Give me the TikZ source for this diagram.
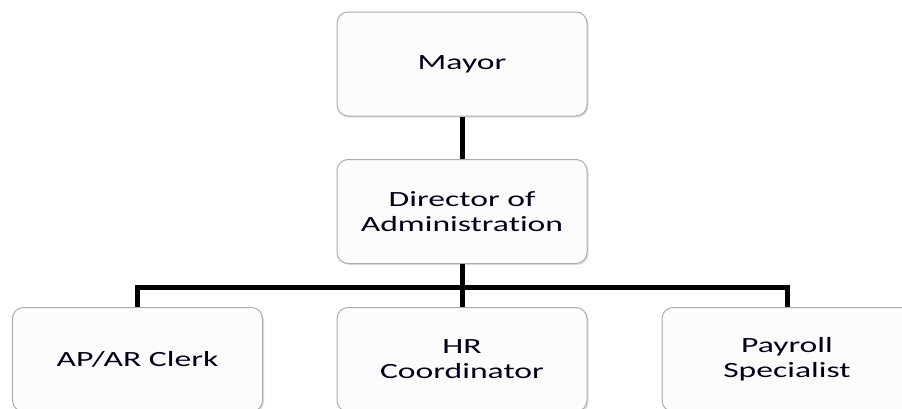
\documentclass[tikz,border=0pt]{standalone}
\usepackage{fontspec}
\setmainfont{Carlito}[FakeStretch=1.55, Ligatures={NoCommon}]
\usetikzlibrary{shadows}

\tikzset{
    post/.style={rectangle, rounded corners=11pt, draw=gray!65, line width=1pt,
        fill=gray!2, minimum width=250pt, minimum height=104pt, align=center,
        text=black!90!blue, font=\fontsize{21.7}{25}\selectfont,
        drop shadow={shadow xshift=1.5pt, shadow yshift=-1.5pt, opacity=0.25}},
    link/.style={draw, line width=5pt, black}
}

\begin{document}
\begin{tikzpicture}[x=1pt, y=-1pt]
    \path[use as bounding box, clip] (0,0) rectangle (902,408);
    \fill[white] (0,0) rectangle (902,408);

    \def\rowa{64}
    \def\rowb{211.5}
    \def\rowc{359.5}

    \node(mayor) [post] at (462,\rowa) {Mayor};
    \node(dir) [post] at (462,\rowb) {Director of\\Administration};
    \node(clerk) [post] at (137.5,\rowc) {AP/AR Clerk};
    \node(hr) [post] at (462,\rowc) {HR\\Coordinator};
    \node(payroll) [post] at (787,\rowc) {Payroll\\Specialist};

    \coordinate(bus) at (462,287);

    \draw[link] (mayor) -- (dir);
    \draw[link] (dir) -- (bus) -- (hr);
    \draw[link] (bus) -| (clerk);
    \draw[link] (bus) -| (payroll);

\end{tikzpicture}
\end{document}
